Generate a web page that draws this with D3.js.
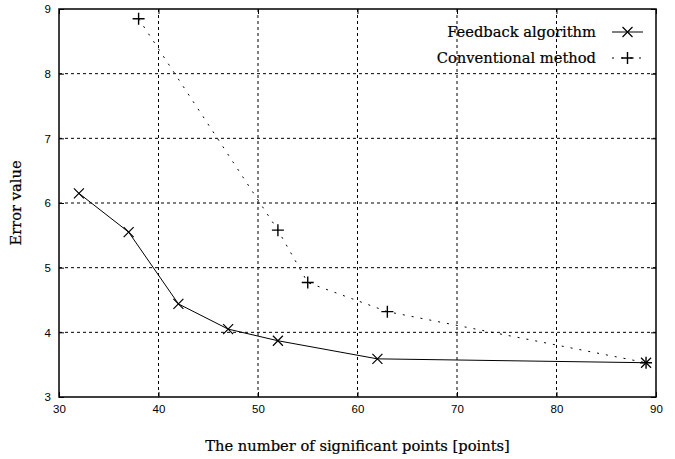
<!DOCTYPE html>
<html>
<head>
<meta charset="utf-8">
<script src="https://cdn.jsdelivr.net/npm/d3@7"></script>
<style>
  body { margin: 0; background: #fff; }
  .tick text { font-family: "Liberation Sans", Arial, sans-serif; font-size: 11.5px; fill: #000; }
  .title { font-family: "DejaVu Serif", serif; font-size: 14.7px; fill: #000; stroke: #000; stroke-width: 0.2px; }
</style>
</head>
<body>
<div id="chart"></div>
<script>
// data
var feedbackX = [32, 37, 42, 47, 52, 62, 89];
var feedbackY = [6.15, 5.55, 4.44, 4.05, 3.87, 3.59, 3.53];
var conventionalX = [38, 52, 55, 63, 89];
var conventionalY = [8.85, 5.58, 4.77, 4.32, 3.53];
var xTicks = [30, 40, 50, 60, 70, 80, 90];
var yTicks = [3, 4, 5, 6, 7, 8, 9];

var W = 675, H = 459;
var margin = {top: 9, right: 19, bottom: 62, left: 59};
var w = W - margin.left - margin.right,
    h = H - margin.top - margin.bottom;

var svg = d3.select('#chart').append('svg')
    .attr('width', W)
    .attr('height', H);

var g = svg.append('g')
    .attr('transform', 'translate(' + margin.left + ',' + margin.top + ')');

var x = d3.scaleLinear().domain([30, 90]).range([0, w]);
var y = d3.scaleLinear().domain([3, 9]).range([h, 0]);

// grid
g.append('g').selectAll('line')
    .data(xTicks.slice(1, -1))
    .enter().append('line')
    .attr('x1', function(d) { return x(d); })
    .attr('x2', function(d) { return x(d); })
    .attr('y1', 0).attr('y2', h)
    .attr('stroke', '#000').attr('stroke-width', 1)
    .attr('stroke-dasharray', '3,3');

g.append('g').selectAll('line')
    .data(yTicks.slice(1, -1))
    .enter().append('line')
    .attr('y1', function(d) { return y(d); })
    .attr('y2', function(d) { return y(d); })
    .attr('x1', 0).attr('x2', w)
    .attr('stroke', '#000').attr('stroke-width', 1)
    .attr('stroke-dasharray', '3,3');

// axes (ticks point inward, mirrored like gnuplot)
var xAxis = d3.axisBottom(x).tickValues(xTicks).tickSize(-5).tickPadding(8).tickFormat(d3.format('d'));
var yAxis = d3.axisLeft(y).tickValues(yTicks).tickSize(-5).tickPadding(8).tickFormat(d3.format('d'));

g.append('g').attr('transform', 'translate(0,' + h + ')').call(xAxis);
g.append('g').call(yAxis);
g.append('g').call(d3.axisTop(x).tickValues(xTicks).tickSize(-5).tickFormat(''));
g.append('g').attr('transform', 'translate(' + w + ',0)')
    .call(d3.axisRight(y).tickValues(yTicks).tickSize(-5).tickFormat(''));

g.selectAll('.domain').remove();
g.selectAll('.tick line').attr('stroke', '#000');

g.append('rect')
    .attr('width', w).attr('height', h)
    .attr('fill', 'none').attr('stroke', '#000').attr('stroke-width', 1.5);

// series
var line = d3.line()
    .x(function(d) { return x(d[0]); })
    .y(function(d) { return y(d[1]); });

var feedback = d3.zip(feedbackX, feedbackY);
var conventional = d3.zip(conventionalX, conventionalY);

g.append('path')
    .datum(conventional)
    .attr('d', line)
    .attr('fill', 'none').attr('stroke', '#000').attr('stroke-width', 1)
    .attr('stroke-dasharray', '2,7');

g.append('path')
    .datum(feedback)
    .attr('d', line)
    .attr('fill', 'none').attr('stroke', '#000').attr('stroke-width', 1);

function cross(sel, r) {
    sel.append('path')
        .attr('d', 'M' + (-r) + ',' + (-r) + 'L' + r + ',' + r + 'M' + (-r) + ',' + r + 'L' + r + ',' + (-r))
        .attr('stroke', '#000').attr('stroke-width', 1.2);
}
function plus(sel, r) {
    sel.append('path')
        .attr('d', 'M' + (-r) + ',0L' + r + ',0M0,' + (-r) + 'L0,' + r)
        .attr('stroke', '#000').attr('stroke-width', 1.4);
}

g.selectAll('.mk-f')
    .data(feedback)
    .enter().append('g')
    .attr('class', 'mk-f')
    .attr('transform', function(d) { return 'translate(' + x(d[0]) + ',' + y(d[1]) + ')'; })
    .each(function() { cross(d3.select(this), 5); });

g.selectAll('.mk-c')
    .data(conventional)
    .enter().append('g')
    .attr('class', 'mk-c')
    .attr('transform', function(d) { return 'translate(' + x(d[0]) + ',' + y(d[1]) + ')'; })
    .each(function() { plus(d3.select(this), 6); });

// legend
var legend = svg.append('g');
var rows = [
    {label: 'Feedback algorithm', y: 32, dash: null, mark: cross, r: 5},
    {label: 'Conventional method', y: 58, dash: '2,7', mark: plus, r: 6}
];
rows.forEach(function(row) {
    legend.append('text')
        .attr('class', 'title')
        .attr('x', 596).attr('y', row.y)
        .attr('dy', '0.35em')
        .attr('text-anchor', 'end')
        .text(row.label);
    legend.append('line')
        .attr('x1', 612).attr('x2', 643)
        .attr('y1', row.y).attr('y2', row.y)
        .attr('stroke', '#000')
        .attr('stroke-dasharray', row.dash);
    var m = legend.append('g').attr('transform', 'translate(627.5,' + row.y + ')');
    row.mark(m, row.r);
});

// axis titles
svg.append('text')
    .attr('class', 'title')
    .attr('x', margin.left + w / 2).attr('y', 451)
    .attr('text-anchor', 'middle')
    .text('The number of significant points [points]');

svg.append('text')
    .attr('class', 'title')
    .attr('transform', 'translate(21,' + (margin.top + h / 2) + ') rotate(-90)')
    .attr('text-anchor', 'middle')
    .text('Error value');
</script>
</body>
</html>
